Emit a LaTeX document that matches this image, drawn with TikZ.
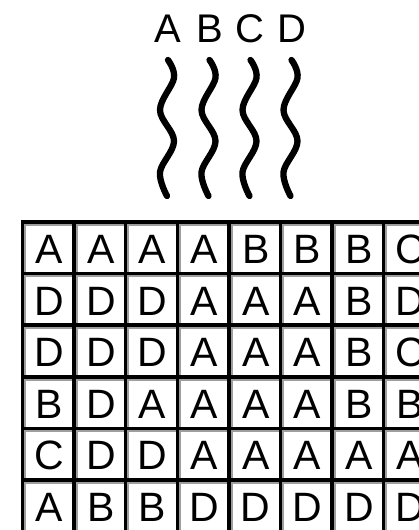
\documentclass[tikz,border=0pt]{standalone}
\usepackage{fontspec}
\setmainfont{Liberation Sans}
\definecolor{gridgray}{gray}{0.62}
\begin{document}
\begin{tikzpicture}[x=1pt,y=-1pt,
  letter/.style={font=\fontsize{41}{41}\selectfont, inner sep=0pt, anchor=base},
  toplabel/.style={font=\fontsize{40}{40}\selectfont, inner sep=0pt, anchor=base},
  wave/.style={line width=6.3pt, line cap=round, line join=round},
  gridline/.style={line width=3.5pt, draw=black},
  shadeline/.style={line width=2pt, draw=gridgray}]
\useasboundingbox (0,0) rectangle (419,530);
\clip (0,0) rectangle (419,530);
% top labels
\foreach \l/\x in {A/168,B/210,C/250,D/292}
  \node[toplabel] (top\l) at (\x,42) {\l};
% wavy lines
\foreach \cx in {167,208.5,249.5,290.5}
  \draw[wave] plot[smooth, tension=0.6] coordinates
    {(\cx+1,60) (\cx+7,78) (\cx-7,110) (\cx+7,141) (\cx-7,172) (\cx,196)};
% grid shading
\foreach \i in {0,...,8}
  \draw[shadeline] ({22.5+\i*51.6+2.75},222) -- ({22.5+\i*51.6+2.75},545);
\foreach \j in {0,...,6}
  \draw[shadeline] (22.5,{222+\j*51.6+2.75}) -- (445,{222+\j*51.6+2.75});
% grid lines
\foreach \i in {0,...,8}
  \draw[gridline] ({22.5+\i*51.6},220.25) -- ({22.5+\i*51.6},545);
\foreach \j in {0,...,6}
  \draw[gridline] (20.75,{222+\j*51.6}) -- (445,{222+\j*51.6});
% cell letters
\foreach \r/\row in {1/{A,A,A,A,B,B,B,C},2/{D,D,D,A,A,A,B,D},3/{D,D,D,A,A,A,B,C},
                     4/{B,D,A,A,A,A,B,B},5/{C,D,D,A,A,A,A,A},6/{A,B,B,D,D,D,D,D}}
  \foreach \l [count=\c] in \row
    \node[letter] (cell-\r-\c) at ({22.5+(\c-0.5)*51.6+1},{222+(\r-0.5)*51.6+1+14.7}) {\l};
\end{tikzpicture}
\end{document}
